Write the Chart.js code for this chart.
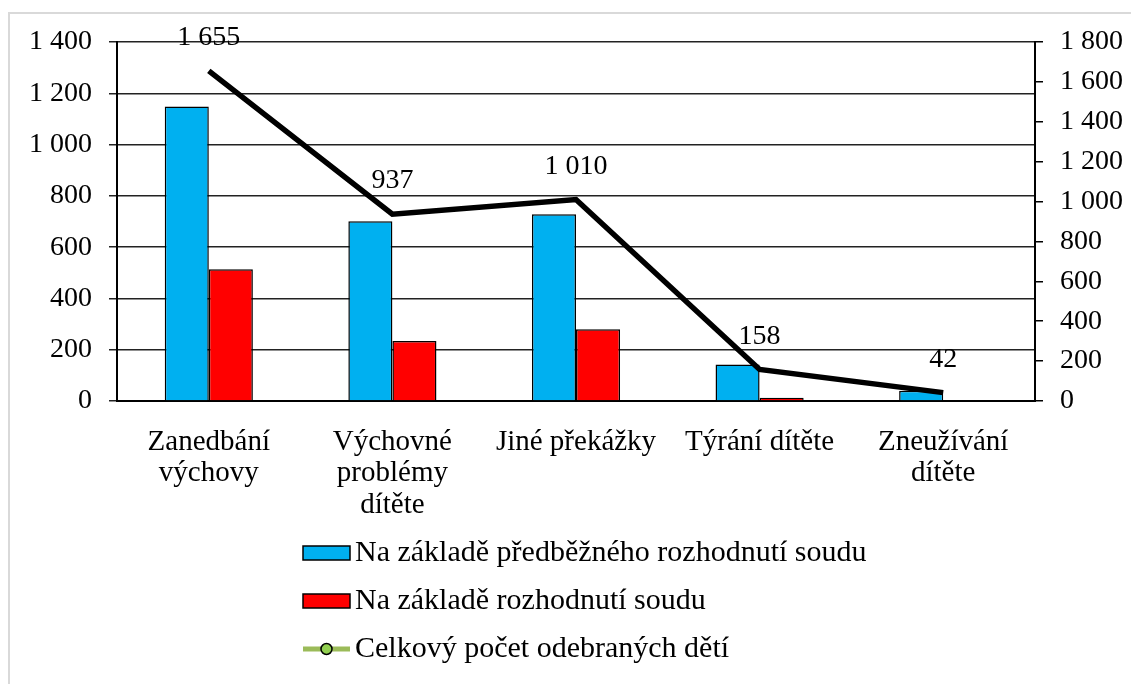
<!DOCTYPE html>
<html>
<head>
<meta charset="utf-8">
<script src="https://cdn.jsdelivr.net/npm/chart.js"></script>
<style>
  html, body { margin: 0; padding: 0; background: #fff; }
  #wrap { width: 1131px; height: 684px; }
</style>
</head>
<body>
<div id="wrap"><canvas id="chart" width="1131" height="684"></canvas></div>
<script>
const categories = [
  ['Zanedbání', 'výchovy'],
  ['Výchovné', 'problémy', 'dítěte'],
  'Jiné překážky',
  'Týrání dítěte',
  ['Zneužívání', 'dítěte']
];
const predbezne = [1148, 701, 728, 142, 40];
const rozhodnuti = [514, 234, 280, 13, 2];
const celkem = [1655, 937, 1010, 158, 42];
const seriesNames = [
  'Na základě předběžného rozhodnutí soudu',
  'Na základě rozhodnutí soudu',
  'Celkový počet odebraných dětí'
];

const FONT = "'Liberation Serif', 'Times New Roman', serif";
const fmt = v => String(v).replace(/\B(?=(\d{3})+(?!\d))/g, ' ');

// label above every point of the line
const lineLabels = {
  id: 'lineLabels',
  afterDatasetsDraw(chart) {
    const meta = chart.getDatasetMeta(2);
    const ctx = chart.ctx;
    ctx.save();
    ctx.font = '28px ' + FONT;
    ctx.fillStyle = '#000';
    ctx.textAlign = 'center';
    ctx.textBaseline = 'middle';
    meta.data.forEach((p, i) => {
      ctx.fillText(fmt(celkem[i]), p.x, p.y - 33);
    });
    ctx.restore();
  }
};

// grey frame + stacked legend below the axis
const frameLegend = {
  id: 'frameLegend',
  beforeDraw(chart) {
    const ctx = chart.ctx;
    ctx.save();
    ctx.strokeStyle = '#d9d9d9';
    ctx.lineWidth = 2;
    ctx.beginPath();
    ctx.moveTo(9, 700);
    ctx.lineTo(9, 13);
    ctx.lineTo(1140, 13);
    ctx.stroke();
    ctx.restore();
  },
  afterDraw(chart) {
    const ctx = chart.ctx;
    const ds = chart.data.datasets;
    const x0 = 303, rows = [553, 601, 649];
    ctx.save();
    ctx.font = '30px ' + FONT;
    ctx.textBaseline = 'middle';
    ds.forEach((d, i) => {
      const y = rows[i];
      if (d.type === 'line') {
        ctx.strokeStyle = '#9bbb59';
        ctx.lineWidth = 5;
        ctx.beginPath();
        ctx.moveTo(x0, y);
        ctx.lineTo(x0 + 47, y);
        ctx.stroke();
        ctx.beginPath();
        ctx.arc(x0 + 23.5, y, 5.5, 0, Math.PI * 2);
        ctx.fillStyle = '#92d050';
        ctx.fill();
        ctx.lineWidth = 1.5;
        ctx.strokeStyle = '#000';
        ctx.stroke();
      } else {
        ctx.fillStyle = d.backgroundColor;
        ctx.fillRect(x0, y - 7, 47, 14);
        ctx.lineWidth = 1.5;
        ctx.strokeStyle = '#000';
        ctx.strokeRect(x0, y - 7, 47, 14);
      }
      ctx.fillStyle = '#000';
      ctx.fillText(d.label, x0 + 52, y);
    });
    ctx.restore();
  }
};

new Chart(document.getElementById('chart'), {
  data: {
    labels: categories,
    datasets: [
      {
        type: 'bar',
        label: seriesNames[0],
        data: predbezne,
        backgroundColor: '#00b0f0',
        borderColor: '#000',
        borderWidth: 1.5,
        yAxisID: 'y',
        order: 2
      },
      {
        type: 'bar',
        label: seriesNames[1],
        data: rozhodnuti,
        backgroundColor: '#ff0000',
        borderColor: '#000',
        borderWidth: 1.5,
        yAxisID: 'y',
        order: 2
      },
      {
        type: 'line',
        label: seriesNames[2],
        data: celkem,
        borderColor: '#000',
        borderWidth: 5.5,
        pointRadius: 0,
        tension: 0,
        yAxisID: 'y1',
        order: 1
      }
    ]
  },
  options: {
    responsive: false,
    animation: false,
    datasets: { bar: { categoryPercentage: 0.48, barPercentage: 1 } },
    layout: { padding: { top: 42, right: 0, left: 0, bottom: 0 } },
    plugins: {
      legend: { display: false },
      tooltip: { enabled: false }
    },
    scales: {
      x: {
        grid: { display: false },
        border: { display: true, color: '#000', width: 2 },
        ticks: {
          color: '#000',
          font: { family: FONT, size: 29, lineHeight: 1.1 },
          padding: 17,
          maxRotation: 0,
          autoSkip: false
        },
        afterFit: s => { s.height = 283; }
      },
      y: {
        position: 'left',
        min: 0,
        max: 1400,
        grid: { color: '#222', lineWidth: 1.5, tickLength: 8, drawTicks: true },
        border: { display: true, color: '#000', width: 2 },
        ticks: {
          stepSize: 200,
          color: '#000',
          padding: 17,
          font: { family: FONT, size: 28 },
          callback: v => fmt(v)
        },
        afterFit: s => { s.width = 117; }
      },
      y1: {
        position: 'right',
        min: 0,
        max: 1800,
        grid: { drawOnChartArea: false, color: '#000', lineWidth: 1.5, tickLength: 8 },
        border: { display: true, color: '#000', width: 2 },
        ticks: {
          stepSize: 200,
          color: '#000',
          padding: 17,
          font: { family: FONT, size: 28 },
          callback: v => fmt(v)
        },
        afterFit: s => { s.width = 96; }
      }
    }
  },
  plugins: [frameLegend, lineLabels]
});
</script>
</body>
</html>
